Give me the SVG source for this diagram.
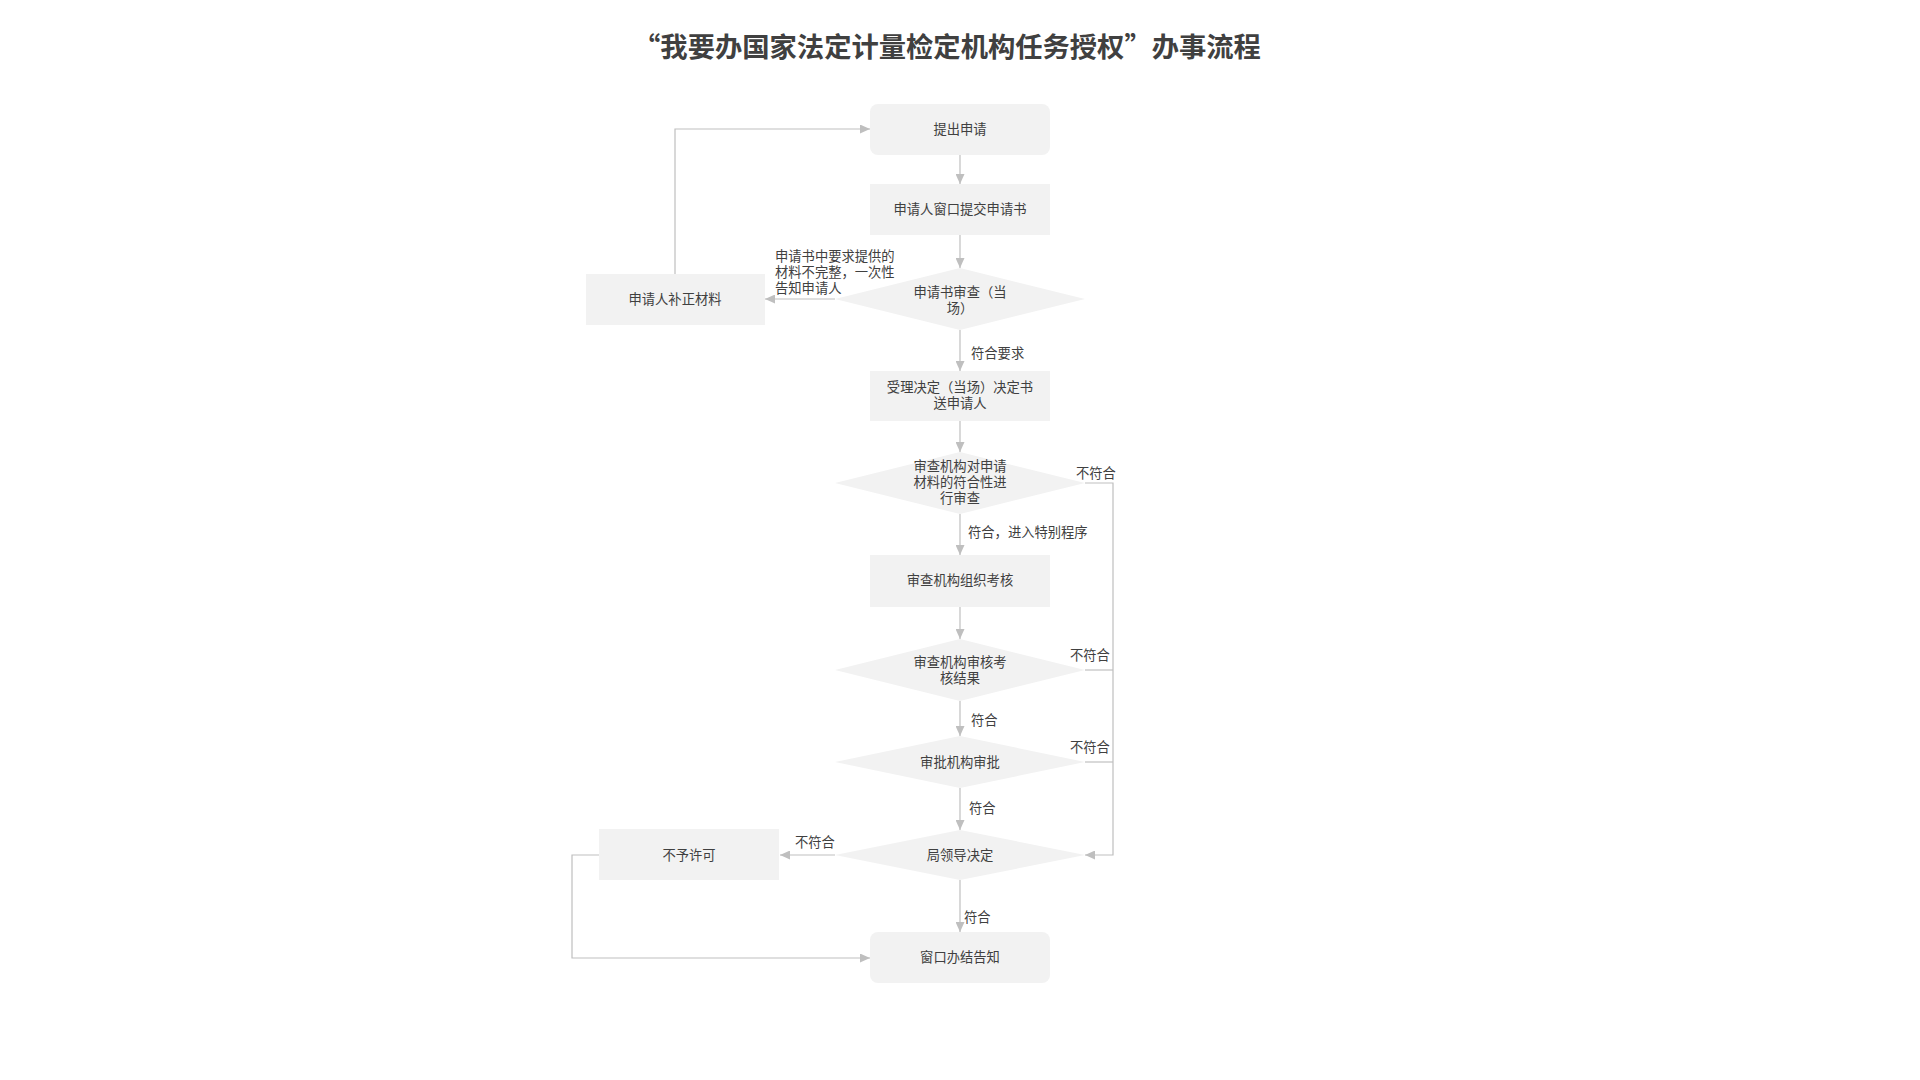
<svg xmlns="http://www.w3.org/2000/svg" width="1920" height="1080" viewBox="0 0 1920 1080">
<style>
text{font-family:"Noto Sans CJK SC","Microsoft YaHei","Noto Sans",sans-serif;fill:#404040}
.t{font-size:27.3px;font-weight:bold;text-anchor:middle}
.n{font-size:13.3px;text-anchor:middle}
.l{font-size:13.3px}
.box{fill:#f2f2f2}
.c{fill:none;stroke:#bfbfbf;stroke-width:1.2}
.a{marker-end:url(#arr)}
</style>
<defs>
<marker id="arr" markerUnits="userSpaceOnUse" markerWidth="10" markerHeight="9" refX="10" refY="4.5" orient="auto">
<path d="M0,0 L10,4.5 L0,9 z" fill="#bfbfbf"/>
</marker>
</defs>
<rect width="1920" height="1080" fill="#ffffff"/>
<text class="t" x="947" y="57">“我要办国家法定计量检定机构任务授权”办事流程</text>

<g id="connectors">
<path class="c a" d="M960,155 V184"/>
<path class="c a" d="M960,235 V268"/>
<path class="c a" d="M835,299 H765"/>
<path class="c a" d="M675,274 V129 H870"/>
<path class="c a" d="M960,330 V371"/>
<path class="c a" d="M960,421 V452"/>
<path class="c a" d="M960,514 V555"/>
<path class="c a" d="M1085,483 H1113 V855 H1085"/>
<path class="c a" d="M960,607 V639"/>
<path class="c" d="M1085,670 H1113"/>
<path class="c a" d="M960,701 V736"/>
<path class="c" d="M1085,762 H1113"/>
<path class="c a" d="M960,788 V830"/>
<path class="c a" d="M835,855 H780"/>
<path class="c a" d="M960,880 V932"/>
<path class="c a" d="M599,855 H572 V958 H870"/>
<text class="l" x="775" y="261">申请书中要求提供的</text>
<text class="l" x="775" y="277">材料不完整，一次性</text>
<text class="l" x="775" y="293">告知申请人</text>
<text class="l" x="971" y="358">符合要求</text>
<text class="l" x="1076" y="478">不符合</text>
<text class="l" x="968" y="537">符合，进入特别程序</text>
<text class="l" x="1070" y="660">不符合</text>
<text class="l" x="971" y="725">符合</text>
<text class="l" x="1070" y="752">不符合</text>
<text class="l" x="969" y="813">符合</text>
<text class="l" x="795" y="847">不符合</text>
<text class="l" x="964" y="922">符合</text>
</g>

<g id="n1"><rect class="box" x="870" y="104" width="180" height="51" rx="8"/><text class="n" x="960" y="134">提出申请</text></g>
<g id="n2"><rect class="box" x="870" y="184" width="180" height="51"/><text class="n" x="960" y="214">申请人窗口提交申请书</text></g>
<g id="d1"><path class="box" d="M960,268 L1085,299 L960,330 L835,299 z"/><text class="n" x="960" y="297">申请书审查（当</text><text class="n" x="960" y="313">场）</text></g>
<g id="n3"><rect class="box" x="586" y="274" width="179" height="51"/><text class="n" x="675" y="304">申请人补正材料</text></g>
<g id="n4"><rect class="box" x="870" y="371" width="180" height="50"/><text class="n" x="960" y="392">受理决定（当场）决定书</text><text class="n" x="960" y="408">送申请人</text></g>
<g id="d2"><path class="box" d="M960,452 L1085,483 L960,514 L835,483 z"/><text class="n" x="960" y="471">审查机构对申请</text><text class="n" x="960" y="487">材料的符合性进</text><text class="n" x="960" y="503">行审查</text></g>
<g id="n5"><rect class="box" x="870" y="555" width="180" height="52"/><text class="n" x="960" y="585">审查机构组织考核</text></g>
<g id="d3"><path class="box" d="M960,639 L1085,670 L960,701 L835,670 z"/><text class="n" x="960" y="667">审查机构审核考</text><text class="n" x="960" y="683">核结果</text></g>
<g id="d4"><path class="box" d="M960,736 L1085,762 L960,788 L835,762 z"/><text class="n" x="960" y="767">审批机构审批</text></g>
<g id="d5"><path class="box" d="M960,830 L1085,855 L960,880 L835,855 z"/><text class="n" x="960" y="860">局领导决定</text></g>
<g id="n6"><rect class="box" x="599" y="829" width="180" height="51"/><text class="n" x="689" y="860">不予许可</text></g>
<g id="n7"><rect class="box" x="870" y="932" width="180" height="51" rx="8"/><text class="n" x="960" y="962">窗口办结告知</text></g>
</svg>
